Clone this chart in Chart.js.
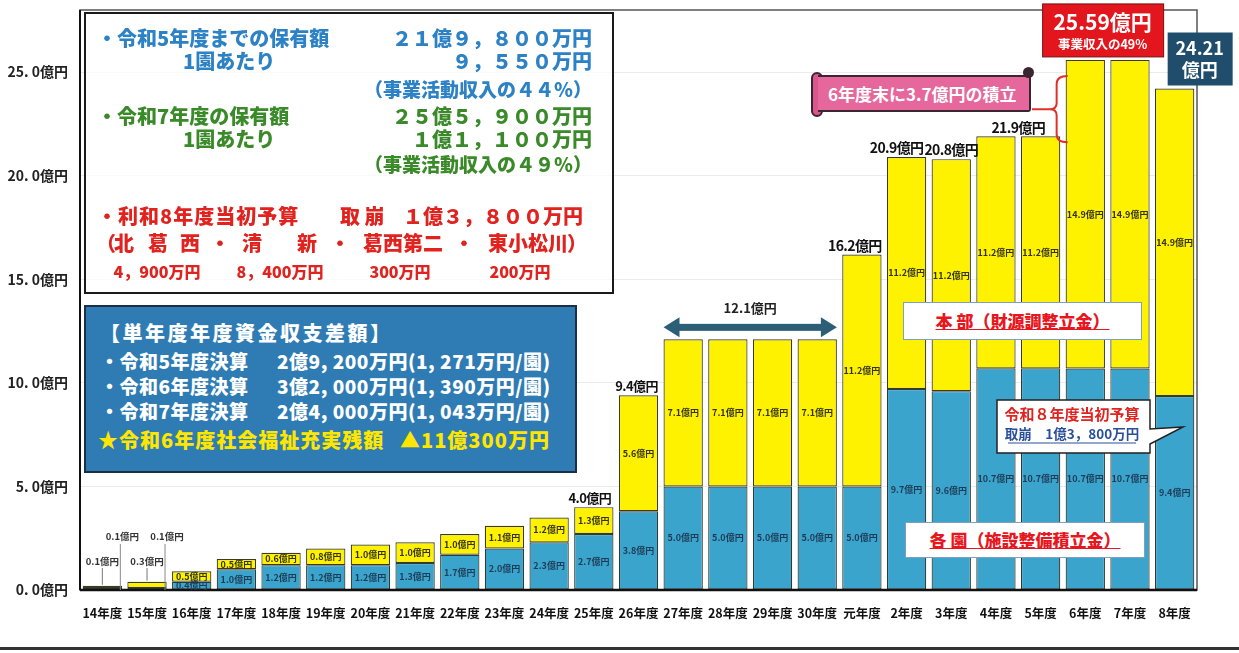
<!DOCTYPE html>
<html lang="ja">
<head>
<meta charset="utf-8">
<title>積立金保有額の推移</title>
<script src="https://cdn.jsdelivr.net/npm/chart.js@4.4.1/dist/chart.umd.min.js"></script>
<style>
    html, body { margin: 0; padding: 0; background: #fff; }
    #wrap {
        position: relative; width: 1239px; height: 653px; overflow: hidden;
        font-family: 'Noto Sans CJK JP', 'Noto Sans', sans-serif; font-weight: 900;
    }
    #wrap canvas { position: absolute; left: 0; top: 0; }
    .box { position: absolute; box-sizing: border-box; }
    .t { position: absolute; white-space: pre; line-height: 1; transform: translateY(-50%); }
    .r { position: absolute; white-space: pre; line-height: 1; transform: translateY(-50%); text-align: right; }
    .c { position: absolute; white-space: pre; line-height: 1; transform: translate(-50%, -50%); }
    .blue { color: #2c82c4; font-size: 20px; }
    .green { color: #3a8a2a; font-size: 20px; }
    .red { color: #e0231e; font-size: 20px; }
    .white { color: #fff; font-size: 19px; letter-spacing: 0.5px; }
    .yellow { color: #ffe600; font-size: 20px; letter-spacing: 1px; }
    .label-box {
        position: absolute; box-sizing: border-box; background: #fff;
        border: 1.5px solid #7f9fc0; text-align: center;
        color: #e8161e; font-size: 17px; text-decoration: underline;
    }
</style>
</head>
<body>
<div id="wrap">
    <canvas id="fundChart" width="1239" height="653"></canvas>

    <!-- 保有額の説明 -->
    <div class="box" style="left:84px; top:12px; width:530px; height:282px; border:2px solid #1a1a1a; background:rgba(255,255,255,0.75);"></div>
    <span class="t blue" style="left:97px; top:38px;">・令和5年度までの保有額</span>
    <span class="r blue" style="right:647px; top:38px;">２１億９，８００万円</span>
    <span class="t blue" style="left:183px; top:61px;">1園あたり</span>
    <span class="r blue" style="right:647px; top:61px;">９，５５０万円</span>
    <span class="r blue" style="right:647px; top:88px; font-size:19px;">（事業活動収入の４４％）</span>
    <span class="t green" style="left:97px; top:116px;">・令和7年度の保有額</span>
    <span class="r green" style="right:647px; top:116px;">２５億５，９００万円</span>
    <span class="t green" style="left:183px; top:139px;">1園あたり</span>
    <span class="r green" style="right:647px; top:139px;">１億１，１００万円</span>
    <span class="r green" style="right:647px; top:163px; font-size:19px;">（事業活動収入の４９％）</span>
    <span class="t red" style="left:97px; top:216px; letter-spacing:1px;">・利和8年度当初予算</span>
    <span class="t red" style="left:340px; top:216px;">取 崩</span>
    <span class="r red" style="right:656px; top:216px;">１億３，８００万円</span>
    <span class="c red" style="left:106px; top:243px;">（</span>
    <span class="c red" style="left:124px; top:243px;">北</span>
    <span class="c red" style="left:158px; top:243px;">葛</span>
    <span class="c red" style="left:190px; top:243px;">西</span>
    <span class="c red" style="left:220px; top:243px;">・</span>
    <span class="c red" style="left:252px; top:243px;">清</span>
    <span class="c red" style="left:307px; top:243px;">新</span>
    <span class="c red" style="left:340px; top:243px;">・</span>
    <span class="c red" style="left:403px; top:243px;">葛西第二</span>
    <span class="c red" style="left:464px; top:243px;">・</span>
    <span class="c red" style="left:528px; top:243px;">東小松川</span>
    <span class="c red" style="left:577px; top:243px;">）</span>
    <span class="c red" style="left:157px; top:271px; font-size:16px;">4，900万円</span>
    <span class="c red" style="left:280px; top:271px; font-size:16px;">8，400万円</span>
    <span class="c red" style="left:400px; top:271px; font-size:16px;">300万円</span>
    <span class="c red" style="left:520px; top:271px; font-size:16px;">200万円</span>

    <!-- 単年度の収支差額 -->
    <div class="box" style="left:84px; top:305px; width:493px; height:168px; background:#2e7cb3; border:2px solid #1b2f45;"></div>
    <span class="t white" style="left:100px; top:333px; font-size:20px; letter-spacing:2.5px;">【単年度年度資金収支差額】</span>
    <span class="t white" style="left:100px; top:360px;">・令和5年度決算</span>
    <span class="t white" style="left:277px; top:360px;">2億9, 200万円(1, 271万円/園)</span>
    <span class="t white" style="left:100px; top:385px;">・令和6年度決算</span>
    <span class="t white" style="left:277px; top:385px;">3億2, 000万円(1, 390万円/園)</span>
    <span class="t white" style="left:100px; top:410px;">・令和7年度決算</span>
    <span class="t white" style="left:277px; top:410px;">2億4, 000万円(1, 043万円/園)</span>
    <span class="t yellow" style="left:98px; top:440px;">★令和6年度社会福祉充実残額</span>
    <span class="t yellow" style="left:400px; top:440px;">▲11億300万円</span>

    <!-- 積立の吹き出し -->
    <div class="box" style="left:811px; top:72px; width:12px; height:45px; background:#d9578e; border:2px solid #3b2530; border-radius:6px;"></div>
    <div class="box" style="left:818px; top:75px; width:213px; height:37px; background:#e5679c; border:2px solid #3b2530; border-left:none; border-radius:0 3px 3px 0;"></div>
    <div class="box" style="left:1023px; top:67px; width:11px; height:11px; background:#3b2530; border-radius:50%;"></div>
    <span class="t" style="left:828px; top:93px; color:#fff; font-size:17px; font-weight:bold;">6年度末に3.7億円の積立</span>

    <div class="label-box" style="left:903px; top:302px; width:239px; height:38px; line-height:35px;">本 部（財源調整立金）</div>
    <div class="label-box" style="left:905px; top:522px; width:240px; height:36px; line-height:33px;">各 園（施設整備積立金）</div>

    <div class="box" style="left:0; top:647px; width:1239px; height:3px; background:#333;"></div>
</div>

<script>
    var FONT = "'Noto Sans CJK JP', 'Noto Sans', sans-serif";

    var fiscalYears = ['14年度', '15年度', '16年度', '17年度', '18年度', '19年度', '20年度', '21年度',
        '22年度', '23年度', '24年度', '25年度', '26年度', '27年度', '28年度', '29年度', '30年度',
        '元年度', '2年度', '3年度', '4年度', '5年度', '6年度', '7年度', '8年度'];

    // 各園（施設整備積立金）, 億円
    var enFund = [0.1, 0.1, 0.4, 1.0, 1.2, 1.2, 1.2, 1.3, 1.7, 2.0, 2.3, 2.7, 3.8,
        5.0, 5.0, 5.0, 5.0, 5.0, 9.7, 9.6, 10.7, 10.7, 10.69, 10.69, 9.36];

    // 本部（財源調整積立金）, 億円
    var honbuFund = [0.1, 0.3, 0.5, 0.5, 0.6, 0.8, 1.0, 1.0, 1.0, 1.1, 1.2, 1.3, 5.6,
        7.1, 7.1, 7.1, 7.1, 11.2, 11.2, 11.2, 11.2, 11.2, 14.9, 14.9, 14.85];

    var yTicks = [0, 5, 10, 15, 20, 25];

    // bars with a total written above them (4年度 label sits between 4 and 5)
    var totalLabelAt = [11, 12, 17, 18, 19, 20];
    var totalLabelShift = [-4, -2, -7, -10, 0, 0];
    var arrowFrom = 13, arrowTo = 16;
    var peakIdx = 22, lastIdx = 24;

    var totals = enFund.map(function (v, i) { return v + honbuFund[i]; });

    function oku(v) {
        return (Math.round(v * 10 + 1e-6) / 10).toFixed(1) + '億円';
    }

    function text(ctx, str, x, y, size, color, spacing) {
        ctx.font = 'bold ' + size + 'px ' + FONT;
        ctx.fillStyle = color;
        ctx.textAlign = 'center';
        ctx.textBaseline = 'middle';
        ctx.letterSpacing = spacing || '0px';
        ctx.fillText(str, x, y);
        ctx.letterSpacing = '0px';
    }

    function line(ctx, x1, y1, x2, y2, color, w) {
        ctx.beginPath();
        ctx.moveTo(x1, y1);
        ctx.lineTo(x2, y2);
        ctx.strokeStyle = color;
        ctx.lineWidth = w;
        ctx.stroke();
    }

    var overlayPlugin = {
        id: 'overlays',
        afterDatasetsDraw: function (chart) {
            var ctx = chart.ctx;
            var area = chart.chartArea;
            var yScale = chart.scales.y;
            var enBars = chart.getDatasetMeta(0).data;
            var hbBars = chart.getDatasetMeta(1).data;
            var zeroY = yScale.getPixelForValue(0);

            ctx.save();

            // plot frame
            ctx.strokeStyle = '#555';
            ctx.lineWidth = 1.5;
            ctx.strokeRect(area.left, area.top, area.right - area.left, area.bottom - area.top);
            line(ctx, area.left, area.top, area.left, area.bottom, '#111', 2);
            line(ctx, area.left, area.bottom, area.right, area.bottom, '#111', 2.5);

            // values inside each stacked segment
            [[enBars, enFund, '#1f3b55'], [hbBars, honbuFund, '#333318']].forEach(function (set) {
                set[0].forEach(function (bar, i) {
                    if (i < 2) return;
                    text(ctx, oku(set[1][i]), bar.x, (bar.y + bar.base) / 2, 9, set[2]);
                });
            });

            // the two smallest bars get their values outside, with leader lines
            for (var i = 0; i < 2; i++) {
                var hb = hbBars[i];
                text(ctx, oku(honbuFund[i]), hb.x, zeroY - 29, 9.5, '#333');
                line(ctx, hb.x, zeroY - 22, hb.x, hb.y - 1, '#777', 1);
                text(ctx, oku(enFund[i]), hb.x + 20, zeroY - 54, 9.5, '#333');
                line(ctx, hb.x + 18, zeroY - 46, hb.x + 18, zeroY, '#888', 1);
            }

            // totals above bars
            totalLabelAt.forEach(function (idx, k) {
                var bar = hbBars[idx];
                var x = bar.x + totalLabelShift[k];
                if (idx === 20) x = (bar.x + hbBars[21].x) / 2;
                text(ctx, oku(totals[idx]), x, bar.y - 9, k < 2 ? 13 : 14, '#111', '-0.6px');
            });

            // double arrow over 27〜30年度
            var a = hbBars[arrowFrom], b = hbBars[arrowTo];
            var ax1 = a.x - a.width / 2, ax2 = b.x + b.width / 2;
            var ay = a.y - 12;
            ctx.fillStyle = '#2d5e78';
            ctx.fillRect(ax1 + 14, ay - 3.5, ax2 - ax1 - 28, 7);
            ctx.beginPath();
            ctx.moveTo(ax1, ay); ctx.lineTo(ax1 + 16, ay - 10); ctx.lineTo(ax1 + 16, ay + 10); ctx.closePath();
            ctx.moveTo(ax2, ay); ctx.lineTo(ax2 - 16, ay - 10); ctx.lineTo(ax2 - 16, ay + 10); ctx.closePath();
            ctx.fill();
            text(ctx, oku(totals[arrowFrom]), (ax1 + ax2) / 2, ay - 19, 13, '#222');

            // red brace from 5年度 to 6年度
            var p = hbBars[peakIdx];
            var bx = p.x - p.width / 2 - 9;
            var bTop = p.y + 16, bBot = hbBars[21].y + 6, bMid = (bTop + bBot) / 2;
            ctx.beginPath();
            ctx.moveTo(bx + 11, bTop);
            ctx.quadraticCurveTo(bx, bTop, bx, bTop + 8);
            ctx.lineTo(bx, bMid - 6);
            ctx.quadraticCurveTo(bx, bMid, bx - 7, bMid);
            ctx.quadraticCurveTo(bx, bMid, bx, bMid + 6);
            ctx.lineTo(bx, bBot - 8);
            ctx.quadraticCurveTo(bx, bBot, bx + 11, bBot);
            ctx.moveTo(bx - 7, bMid);
            ctx.lineTo(1032, bMid);
            ctx.strokeStyle = '#e0302a';
            ctx.lineWidth = 2;
            ctx.stroke();

            // peak total box
            var rcx = (p.x + hbBars[peakIdx + 1].x) / 2 - 5;
            var rBot = p.y - 3, rTop = rBot - 53;
            ctx.fillStyle = '#e3161e';
            ctx.fillRect(rcx - 60, rTop, 121, 53);
            ctx.strokeStyle = '#7a1010';
            ctx.lineWidth = 1;
            ctx.strokeRect(rcx - 60, rTop, 121, 53);
            text(ctx, totals[peakIdx].toFixed(2) + '億円', rcx, rTop + 18, 21, '#fff');
            text(ctx, '事業収入の49%', rcx, rTop + 40, 12.5, '#fff');

            // last year total box
            var l = hbBars[lastIdx];
            var lLeft = l.x - 7, lBot = l.y - 3, lTop = lBot - 53;
            ctx.fillStyle = '#1f4d6b';
            ctx.fillRect(lLeft, lTop, 65, 53);
            text(ctx, totals[lastIdx].toFixed(2), lLeft + 32, lTop + 16, 18, '#fff');
            text(ctx, '億円', lLeft + 32, lTop + 38, 18, '#fff');

            // 令和8年度 callout
            ctx.beginPath();
            ctx.moveTo(997, 400); ctx.lineTo(1150, 400); ctx.lineTo(1150, 429);
            ctx.lineTo(1183, 427); ctx.lineTo(1150, 444); ctx.lineTo(1150, 453);
            ctx.lineTo(997, 453); ctx.closePath();
            ctx.fillStyle = '#fff';
            ctx.fill();
            ctx.strokeStyle = '#222';
            ctx.lineWidth = 1.5;
            ctx.stroke();
            text(ctx, '令和８年度当初予算', 1072, 414, 15, '#e0231e');
            text(ctx, '取崩　1億3，800万円', 1072, 434, 13.5, '#2a4f9a');
            line(ctx, 1008, 443, 1136, 443, '#2a4f9a', 1);

            ctx.restore();
        }
    };

    new Chart(document.getElementById('fundChart'), {
        type: 'bar',
        data: {
            labels: fiscalYears,
            datasets: [{
                label: '各園（施設整備積立金）',
                data: enFund,
                backgroundColor: '#3aa4cc',
                borderColor: '#2f3a30',
                borderWidth: 1.2,
                borderSkipped: false,
                categoryPercentage: 1,
                barPercentage: 0.88
            }, {
                label: '本部（財源調整積立金）',
                data: honbuFund,
                backgroundColor: '#fff200',
                borderColor: '#3a3a26',
                borderWidth: 1.2,
                borderSkipped: false,
                categoryPercentage: 1,
                barPercentage: 0.88
            }]
        },
        options: {
            responsive: false,
            animation: false,
            devicePixelRatio: 1,
            layout: { padding: { left: 0, right: 42, top: 10, bottom: 0 } },
            plugins: {
                legend: { display: false },
                tooltip: { enabled: false }
            },
            scales: {
                x: {
                    stacked: true,
                    grid: { display: false },
                    border: { display: false },
                    ticks: {
                        autoSkip: false,
                        maxRotation: 0,
                        minRotation: 0,
                        padding: 8,
                        color: '#111',
                        font: { family: FONT, size: 12.5, weight: 'bold' }
                    },
                    afterFit: function (scale) {
                        scale.height = 63;
                        scale.paddingLeft = 0;
                        scale.paddingRight = 0;
                    }
                },
                y: {
                    stacked: true,
                    min: 0,
                    max: 28,
                    grid: { color: 'rgba(0, 0, 0, 0.08)', drawTicks: false },
                    border: { display: false },
                    afterBuildTicks: function (scale) {
                        scale.ticks = yTicks.map(function (v) { return { value: v }; });
                    },
                    ticks: {
                        padding: 12,
                        color: '#222',
                        font: { family: FONT, size: 14, weight: 'bold' },
                        callback: function (v) { return v.toFixed(1).replace('.', '. ') + '億円'; }
                    },
                    afterFit: function (scale) {
                        scale.width = 80;
                        scale.paddingTop = 0;
                        scale.paddingBottom = 0;
                    }
                }
            }
        },
        plugins: [overlayPlugin]
    });
</script>
</body>
</html>
